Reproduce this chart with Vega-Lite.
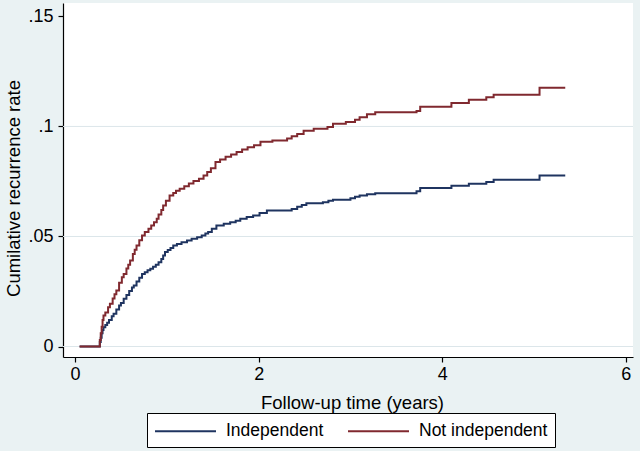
{
  "$schema": "https://vega.github.io/schema/vega-lite/v6.json",
  "description": "Cumulative recurrence rate by follow-up time, independent vs not independent.",
  "width": 570,
  "height": 354,
  "autosize": {"type": "none"},
  "padding": {"left": 63, "top": 3, "right": 7, "bottom": 94},
  "background": "#eaf2f3",
  "config": {
    "font": "Liberation Sans",
    "view": {"fill": "white", "stroke": null},
    "axis": {
      "domainColor": "black",
      "domainWidth": 1.2,
      "tickColor": "black",
      "tickSize": 5,
      "tickWidth": 1.2,
      "labelColor": "black",
      "labelFontSize": 18,
      "titleColor": "black",
      "titleFontSize": 18.5,
      "titleFontWeight": "normal",
      "grid": false
    }
  },
  "datasets": {
    "grid": [{"v": 0}, {"v": 0.05}, {"v": 0.1}],
    "curves": [
      {"group": "Independent", "t": 0.05, "rate": 0},
      {"group": "Independent", "t": 0.26, "rate": 0},
      {"group": "Independent", "t": 0.27, "rate": 0.002},
      {"group": "Independent", "t": 0.28, "rate": 0.004},
      {"group": "Independent", "t": 0.29, "rate": 0.006},
      {"group": "Independent", "t": 0.30, "rate": 0.0075},
      {"group": "Independent", "t": 0.31, "rate": 0.0088},
      {"group": "Independent", "t": 0.33, "rate": 0.0098},
      {"group": "Independent", "t": 0.35, "rate": 0.0108},
      {"group": "Independent", "t": 0.37, "rate": 0.012},
      {"group": "Independent", "t": 0.40, "rate": 0.0137},
      {"group": "Independent", "t": 0.42, "rate": 0.0149},
      {"group": "Independent", "t": 0.45, "rate": 0.0168},
      {"group": "Independent", "t": 0.48, "rate": 0.0186},
      {"group": "Independent", "t": 0.50, "rate": 0.0198},
      {"group": "Independent", "t": 0.53, "rate": 0.0217},
      {"group": "Independent", "t": 0.56, "rate": 0.0234},
      {"group": "Independent", "t": 0.59, "rate": 0.0252},
      {"group": "Independent", "t": 0.62, "rate": 0.0268},
      {"group": "Independent", "t": 0.64, "rate": 0.0277},
      {"group": "Independent", "t": 0.67, "rate": 0.0295},
      {"group": "Independent", "t": 0.70, "rate": 0.0313},
      {"group": "Independent", "t": 0.73, "rate": 0.033},
      {"group": "Independent", "t": 0.76, "rate": 0.0338},
      {"group": "Independent", "t": 0.79, "rate": 0.0346},
      {"group": "Independent", "t": 0.82, "rate": 0.0353},
      {"group": "Independent", "t": 0.85, "rate": 0.0362},
      {"group": "Independent", "t": 0.88, "rate": 0.0372},
      {"group": "Independent", "t": 0.91, "rate": 0.0383},
      {"group": "Independent", "t": 0.94, "rate": 0.0398},
      {"group": "Independent", "t": 0.96, "rate": 0.0414},
      {"group": "Independent", "t": 0.98, "rate": 0.0429},
      {"group": "Independent", "t": 1.01, "rate": 0.0438},
      {"group": "Independent", "t": 1.04, "rate": 0.0448},
      {"group": "Independent", "t": 1.07, "rate": 0.0459},
      {"group": "Independent", "t": 1.11, "rate": 0.0466},
      {"group": "Independent", "t": 1.16, "rate": 0.0474},
      {"group": "Independent", "t": 1.22, "rate": 0.0482},
      {"group": "Independent", "t": 1.27, "rate": 0.049},
      {"group": "Independent", "t": 1.33, "rate": 0.0497},
      {"group": "Independent", "t": 1.38, "rate": 0.0505},
      {"group": "Independent", "t": 1.42, "rate": 0.0513},
      {"group": "Independent", "t": 1.45, "rate": 0.052},
      {"group": "Independent", "t": 1.49, "rate": 0.0535},
      {"group": "Independent", "t": 1.54, "rate": 0.055},
      {"group": "Independent", "t": 1.62, "rate": 0.0558},
      {"group": "Independent", "t": 1.69, "rate": 0.0565},
      {"group": "Independent", "t": 1.75, "rate": 0.0572},
      {"group": "Independent", "t": 1.80, "rate": 0.058},
      {"group": "Independent", "t": 1.87, "rate": 0.0588},
      {"group": "Independent", "t": 1.94, "rate": 0.0595},
      {"group": "Independent", "t": 2.01, "rate": 0.0607},
      {"group": "Independent", "t": 2.09, "rate": 0.0618},
      {"group": "Independent", "t": 2.31, "rate": 0.0618},
      {"group": "Independent", "t": 2.36, "rate": 0.0625},
      {"group": "Independent", "t": 2.42, "rate": 0.0635},
      {"group": "Independent", "t": 2.47, "rate": 0.0643},
      {"group": "Independent", "t": 2.52, "rate": 0.0651},
      {"group": "Independent", "t": 2.70, "rate": 0.0656},
      {"group": "Independent", "t": 2.76, "rate": 0.0662},
      {"group": "Independent", "t": 2.81, "rate": 0.0667},
      {"group": "Independent", "t": 3.00, "rate": 0.0674},
      {"group": "Independent", "t": 3.05, "rate": 0.068},
      {"group": "Independent", "t": 3.10, "rate": 0.0686},
      {"group": "Independent", "t": 3.18, "rate": 0.0692},
      {"group": "Independent", "t": 3.27, "rate": 0.0697},
      {"group": "Independent", "t": 3.72, "rate": 0.0706},
      {"group": "Independent", "t": 3.76, "rate": 0.072},
      {"group": "Independent", "t": 4.10, "rate": 0.073},
      {"group": "Independent", "t": 4.29, "rate": 0.074},
      {"group": "Independent", "t": 4.48, "rate": 0.0747},
      {"group": "Independent", "t": 4.56, "rate": 0.0758},
      {"group": "Independent", "t": 5.06, "rate": 0.0777},
      {"group": "Independent", "t": 5.34, "rate": 0.0777},
      {"group": "Not independent", "t": 0.05, "rate": 0},
      {"group": "Not independent", "t": 0.26, "rate": 0},
      {"group": "Not independent", "t": 0.27, "rate": 0.003},
      {"group": "Not independent", "t": 0.28, "rate": 0.006},
      {"group": "Not independent", "t": 0.29, "rate": 0.009},
      {"group": "Not independent", "t": 0.30, "rate": 0.012},
      {"group": "Not independent", "t": 0.31, "rate": 0.0141},
      {"group": "Not independent", "t": 0.33, "rate": 0.0155},
      {"group": "Not independent", "t": 0.36, "rate": 0.0178},
      {"group": "Not independent", "t": 0.38, "rate": 0.0194},
      {"group": "Not independent", "t": 0.41, "rate": 0.0218},
      {"group": "Not independent", "t": 0.43, "rate": 0.0238},
      {"group": "Not independent", "t": 0.45, "rate": 0.0255},
      {"group": "Not independent", "t": 0.48, "rate": 0.029},
      {"group": "Not independent", "t": 0.51, "rate": 0.0315},
      {"group": "Not independent", "t": 0.53, "rate": 0.033},
      {"group": "Not independent", "t": 0.56, "rate": 0.0355},
      {"group": "Not independent", "t": 0.58, "rate": 0.0372},
      {"group": "Not independent", "t": 0.60, "rate": 0.0391},
      {"group": "Not independent", "t": 0.63, "rate": 0.042},
      {"group": "Not independent", "t": 0.65, "rate": 0.044},
      {"group": "Not independent", "t": 0.67, "rate": 0.0459},
      {"group": "Not independent", "t": 0.70, "rate": 0.0483},
      {"group": "Not independent", "t": 0.73, "rate": 0.0505},
      {"group": "Not independent", "t": 0.76, "rate": 0.052},
      {"group": "Not independent", "t": 0.80, "rate": 0.0535},
      {"group": "Not independent", "t": 0.83, "rate": 0.055},
      {"group": "Not independent", "t": 0.86, "rate": 0.0565},
      {"group": "Not independent", "t": 0.89, "rate": 0.058},
      {"group": "Not independent", "t": 0.91, "rate": 0.060},
      {"group": "Not independent", "t": 0.94, "rate": 0.062},
      {"group": "Not independent", "t": 0.96, "rate": 0.0641},
      {"group": "Not independent", "t": 0.99, "rate": 0.0662},
      {"group": "Not independent", "t": 1.03, "rate": 0.0686},
      {"group": "Not independent", "t": 1.07, "rate": 0.0698},
      {"group": "Not independent", "t": 1.10, "rate": 0.0708},
      {"group": "Not independent", "t": 1.14, "rate": 0.0717},
      {"group": "Not independent", "t": 1.19, "rate": 0.0728},
      {"group": "Not independent", "t": 1.24, "rate": 0.0741},
      {"group": "Not independent", "t": 1.29, "rate": 0.0752},
      {"group": "Not independent", "t": 1.35, "rate": 0.0762},
      {"group": "Not independent", "t": 1.40, "rate": 0.0777},
      {"group": "Not independent", "t": 1.44, "rate": 0.0793},
      {"group": "Not independent", "t": 1.48, "rate": 0.081},
      {"group": "Not independent", "t": 1.53, "rate": 0.0838},
      {"group": "Not independent", "t": 1.58, "rate": 0.085},
      {"group": "Not independent", "t": 1.64, "rate": 0.0862},
      {"group": "Not independent", "t": 1.70, "rate": 0.0872},
      {"group": "Not independent", "t": 1.76, "rate": 0.0884},
      {"group": "Not independent", "t": 1.82, "rate": 0.0895},
      {"group": "Not independent", "t": 1.88, "rate": 0.0905},
      {"group": "Not independent", "t": 1.95, "rate": 0.0915},
      {"group": "Not independent", "t": 2.02, "rate": 0.093},
      {"group": "Not independent", "t": 2.15, "rate": 0.0936},
      {"group": "Not independent", "t": 2.31, "rate": 0.0945},
      {"group": "Not independent", "t": 2.36, "rate": 0.0955},
      {"group": "Not independent", "t": 2.42, "rate": 0.0966},
      {"group": "Not independent", "t": 2.49, "rate": 0.098},
      {"group": "Not independent", "t": 2.60, "rate": 0.0989},
      {"group": "Not independent", "t": 2.75, "rate": 0.0997},
      {"group": "Not independent", "t": 2.81, "rate": 0.1012},
      {"group": "Not independent", "t": 2.95, "rate": 0.102},
      {"group": "Not independent", "t": 3.05, "rate": 0.103},
      {"group": "Not independent", "t": 3.10, "rate": 0.1042},
      {"group": "Not independent", "t": 3.18, "rate": 0.1055},
      {"group": "Not independent", "t": 3.27, "rate": 0.1065},
      {"group": "Not independent", "t": 3.72, "rate": 0.107},
      {"group": "Not independent", "t": 3.76, "rate": 0.109},
      {"group": "Not independent", "t": 4.10, "rate": 0.1106},
      {"group": "Not independent", "t": 4.29, "rate": 0.1121},
      {"group": "Not independent", "t": 4.48, "rate": 0.1133},
      {"group": "Not independent", "t": 4.56, "rate": 0.1144},
      {"group": "Not independent", "t": 5.06, "rate": 0.1176},
      {"group": "Not independent", "t": 5.34, "rate": 0.1176}
    ]
  },
  "layer": [
    {
      "data": {"name": "grid"},
      "mark": {"type": "rule", "color": "#dce6ea", "strokeWidth": 1},
      "encoding": {
        "y": {
          "field": "v",
          "type": "quantitative",
          "scale": {"domain": [-0.00477, 0.1561], "nice": false, "zero": false},
          "axis": {
            "values": [0, 0.05, 0.1, 0.15],
            "labelExpr": "replace(format(datum.value, '~g'), '0.', '.')",
            "labelPadding": 5,
            "title": "Cumilative recurrence rate",
            "titleX": -44,
            "titleY": 185,
            "titleBaseline": "alphabetic"
          }
        }
      }
    },
    {
      "data": {"name": "curves"},
      "mark": {"type": "line", "interpolate": "step-after", "strokeWidth": 2},
      "encoding": {
        "x": {
          "field": "t",
          "type": "quantitative",
          "scale": {"domain": [-0.131, 6.078], "nice": false, "zero": false},
          "axis": {
            "values": [0, 2, 4, 6],
            "title": "Follow-up time (years)",
            "labelPadding": 3,
            "titleX": 289,
            "titleY": 51,
            "titleBaseline": "alphabetic"
          }
        },
        "y": {
          "field": "rate",
          "type": "quantitative",
          "scale": {"domain": [-0.00477, 0.1561], "nice": false, "zero": false},
          "axis": {
            "values": [0, 0.05, 0.1, 0.15],
            "labelExpr": "replace(format(datum.value, '~g'), '0.', '.')",
            "labelPadding": 5,
            "title": "Cumilative recurrence rate",
            "titleX": -44,
            "titleY": 185,
            "titleBaseline": "alphabetic"
          }
        },
        "color": {
          "field": "group",
          "type": "nominal",
          "scale": {"domain": ["Independent", "Not independent"], "range": ["#1f3460", "#80292f"]},
          "legend": {
            "orient": "none",
            "legendX": 84,
            "legendY": 410,
            "direction": "horizontal",
            "title": null,
            "symbolType": "M-1,0H5.1",
            "symbolSize": 400,
            "symbolStrokeWidth": 2,
            "symbolFillColor": "transparent",
            "labelFontSize": 17.5,
            "labelColor": "black",
            "labelOffset": 50,
            "columnPadding": 20,
            "padding": 7,
            "fillColor": "white",
            "strokeColor": "black",
            "cornerRadius": 0
          }
        }
      }
    }
  ]
}
